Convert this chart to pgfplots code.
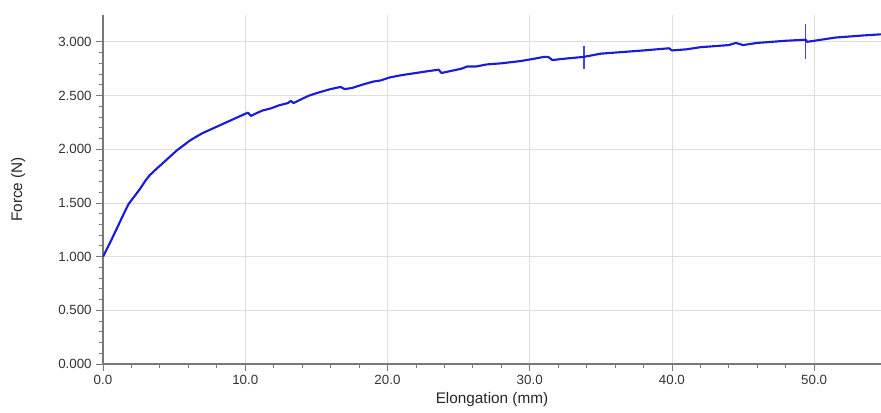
\documentclass[border=0pt]{standalone}
\usepackage{fontspec}
\setmainfont{Liberation Sans}
\usepackage{pgfplots}
\pgfplotsset{compat=1.18}
\usetikzlibrary{calc}
\definecolor{curve}{RGB}{28,28,215}
\definecolor{spikec}{RGB}{70,70,225}
\definecolor{gridc}{RGB}{222,222,222}
\definecolor{axc}{RGB}{120,120,120}
\begin{document}
\begin{tikzpicture}[x=1pt,y=1pt]
\begin{axis}[
    name=ax,
    at={(0,0)}, anchor=south west,
    scale only axis,
    width=583.5pt, height=261.75pt,
    xmin=0, xmax=54.7,
    ymin=0, ymax=3.25,
    axis lines=left,
    axis line style={-, axc, line width=0.8pt},
    xtick={0,10,...,50},
    ytick={0,0.5,...,3.0},
    minor x tick num=4,
    minor y tick num=4,
    tick align=outside,
    major tick length=5pt,
    minor tick length=3pt,
    tick style={axc, line width=0.6pt},
    grid=major,
    major grid style={gridc, line width=0.6pt},
    /pgf/number format/assume math mode=true,
    xticklabel style={/pgf/number format/.cd, fixed, fixed zerofill, precision=1, dec sep={.}, 1000 sep={}},
    yticklabel style={/pgf/number format/.cd, fixed, fixed zerofill, precision=3, dec sep={.}, 1000 sep={}},
    ticklabel style={font=\fontsize{10}{12}\selectfont, text=black!80},
    xlabel={Elongation (mm)},
    ylabel={Force (N)},
    label style={font=\fontsize{11.5}{13}\selectfont, text=black!85},
    xlabel style={at={(axis description cs:0.5,0)}, anchor=north, yshift=-18pt},
    ylabel style={at={(axis description cs:-0.109,0.5)}, anchor=center},
    clip=true,
]
% thin vertical spikes in the record
\addplot[draw=spikec, line width=1.3pt, mark=none] coordinates {(33.8,2.75)(33.8,2.96)};
\addplot[draw=spikec, line width=1.3pt, mark=none] coordinates {(49.4,2.84)(49.4,3.17)};
\addplot[draw=curve, line width=1.6pt, line join=round, mark=none] coordinates {
(0,1.0)(0.5,1.13)(1.0,1.27)(1.5,1.41)(1.8,1.49)(2.2,1.56)(2.6,1.63)(3.0,1.71)(3.3,1.76)(3.7,1.81)
(4.2,1.87)(4.7,1.93)(5.2,1.99)(5.7,2.04)(6.1,2.08)(6.6,2.12)(7.0,2.15)(7.5,2.18)(8.0,2.21)(8.5,2.24)
(9.0,2.27)(9.5,2.30)(10.0,2.33)(10.2,2.34)(10.4,2.31)(10.7,2.33)(11.2,2.36)(11.8,2.38)(12.4,2.41)
(13.0,2.43)(13.2,2.45)(13.4,2.43)(14.0,2.47)(14.5,2.50)(15.2,2.53)(16.0,2.56)(16.7,2.58)(17.0,2.56)
(17.5,2.57)(18.2,2.60)(19.0,2.63)(19.5,2.64)(20.2,2.67)(21.0,2.69)(22.0,2.71)(23.0,2.73)(23.6,2.74)
(23.8,2.71)(24.5,2.73)(25.2,2.75)(25.6,2.77)(26.2,2.77)(27.0,2.79)(28.0,2.80)(29.3,2.82)(30.2,2.84)
(31.0,2.86)(31.3,2.86)(31.6,2.83)(32.2,2.84)(33.0,2.85)(33.8,2.86)
(35.0,2.89)(36.0,2.90)(37.0,2.91)(38.0,2.92)(39.8,2.94)(40.0,2.92)(41.0,2.93)(42.0,2.95)(43.0,2.96)
(44.0,2.97)(44.5,2.99)(45.0,2.97)(46.0,2.99)(47.0,3.00)(48.0,3.01)(49.4,3.02)
(49.5,3.00)(50.5,3.02)(51.5,3.04)(52.5,3.05)(53.5,3.06)(54.7,3.07)
};
\end{axis}
\pgfresetboundingbox
\path ($(ax.south west)+(-77.25pt,-36pt)$) rectangle ($(ax.north east)+(0,11.25pt)$);
\end{tikzpicture}
\end{document}
